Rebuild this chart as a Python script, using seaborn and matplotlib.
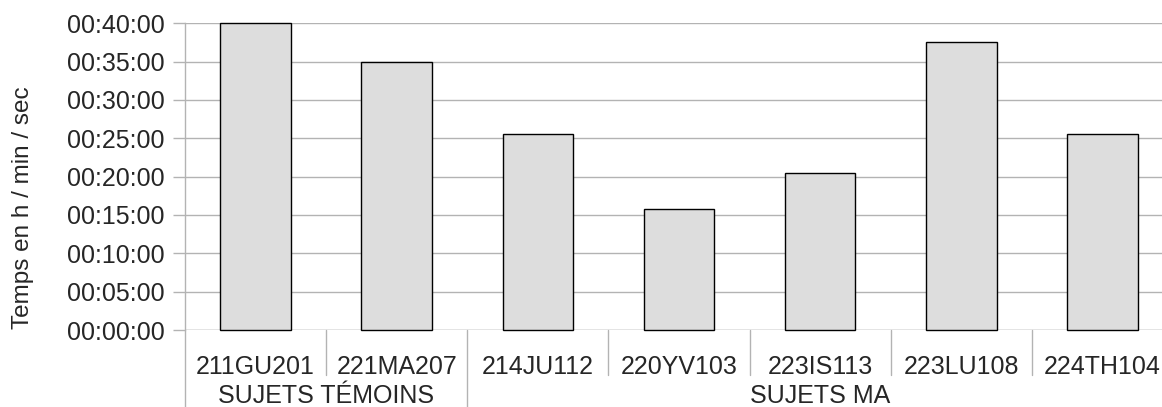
import matplotlib
matplotlib.use("Agg")
import matplotlib.pyplot as plt
import matplotlib.transforms as mtransforms
import seaborn as sns
import pandas as pd

# ---- data ----
subjects = ["211GU201", "221MA207", "214JU112", "220YV103", "223IS113", "223LU108", "224TH104"]
groups = ["SUJETS TÉMOINS", "SUJETS TÉMOINS", "SUJETS MA", "SUJETS MA", "SUJETS MA", "SUJETS MA", "SUJETS MA"]
# durations in minutes (h / min / sec read as minutes)
minutes = [40.08, 34.92, 25.58, 15.8, 20.45, 37.57, 25.58]
y_ticks = [0, 5, 10, 15, 20, 25, 30, 35, 40]
y_tick_labels = ["00:%02d:00" % m for m in y_ticks]
y_label = "Temps en h / min / sec"

df = pd.DataFrame({"subject": subjects, "minutes": minutes, "group": groups})

sns.set_theme(style="white")
plt.rcParams["font.family"] = ["Liberation Sans", "DejaVu Sans"]

W, H = 1162, 407
fig = plt.figure(figsize=(W / 100, H / 100), dpi=100)
left, right, top, bottom = 185, 1173, 23.3, 330
ax = fig.add_axes([left / W, (H - bottom) / H, (right - left) / W, (bottom - top) / H])

sns.barplot(data=df, x="subject", y="minutes", order=subjects, color="#dddddd",
            edgecolor="black", linewidth=1.0, width=0.5, saturation=1, ax=ax)
for p in ax.patches:
    p.set_clip_on(False)

grid_c = "#b3b3b3"
ax.set_ylim(0, 40)
ax.set_xlim(-0.5, len(subjects) - 0.5)
ax.set_yticks(y_ticks)
ax.set_yticklabels(y_tick_labels, fontsize=18)
ax.yaxis.grid(True, color=grid_c, linewidth=1.0)
ax.set_axisbelow(True)
for s in ["top", "right", "bottom"]:
    ax.spines[s].set_visible(False)
ax.spines["left"].set_color(grid_c)
ax.spines["left"].set_linewidth(1.0)
ax.axhline(0, color=grid_c, linewidth=1.0, zorder=0.5)
ax.tick_params(axis="y", length=8.6, width=1.0, color=grid_c, pad=5.8, left=True)
ax.tick_params(axis="x", length=0, pad=18.2)
ax.set_xticks(range(len(subjects)))
ax.set_xticklabels(subjects, fontsize=18)
ax.set_xlabel("")
ax.set_ylabel(y_label, fontsize=17.5)
ax.yaxis.set_label_coords(-0.153, 0.398)

# category / group dividers
trans = mtransforms.blended_transform_factory(ax.transData, ax.transAxes)
short_y = (bottom - 375) / (bottom - top)
long_y = (bottom - H) / (bottom - top)
for i in range(len(subjects) + 1):
    xb = i - 0.5
    is_group_edge = i == 0 or i == len(subjects) or groups[i] != groups[i - 1]
    y_end = long_y if is_group_edge else short_y
    ax.plot([xb, xb], [0, y_end], color=grid_c, linewidth=1.0, transform=trans, clip_on=False)

# group labels
group_y = (bottom - 403) / (bottom - top)
seen = []
for g in groups:
    if g not in seen:
        seen.append(g)
for g in seen:
    idx = [i for i, gg in enumerate(groups) if gg == g]
    cx = (idx[0] + idx[-1]) / 2
    ax.text(cx, group_y, g, transform=trans, ha="center", va="baseline", fontsize=18)

fig.savefig("out.png", dpi=100)
